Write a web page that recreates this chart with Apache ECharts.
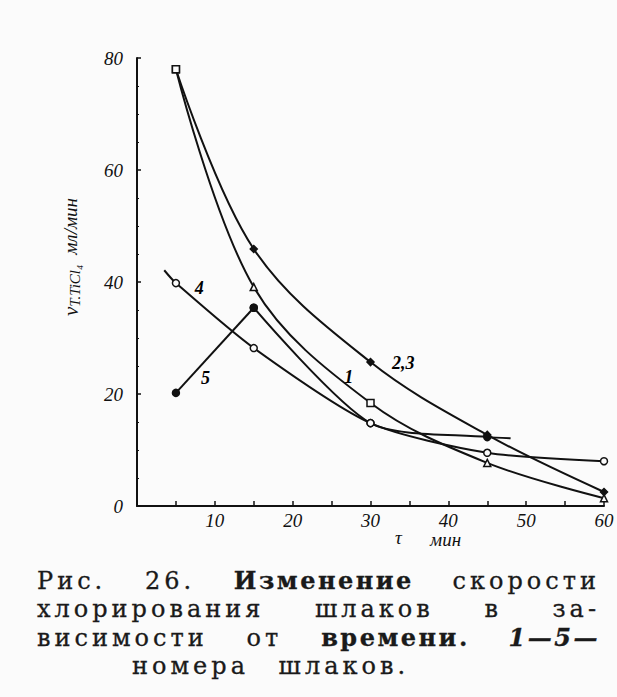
<!DOCTYPE html>
<html>
<head>
<meta charset="utf-8">
<script src="https://cdn.jsdelivr.net/npm/echarts@6/dist/echarts.min.js"></script>
<style>
  html, body { margin: 0; padding: 0; background: #fbfbfb; }
  #chart { width: 617px; height: 697px; }
  #caption {
    position: absolute; left: 37px; top: 567px; width: 563px;
    font-family: "DejaVu Serif", "Liberation Serif", serif;
    font-size: 24px; color: #1a1a1a; line-height: 28.3px; letter-spacing: 4px;
    -webkit-text-stroke: 0.3px #1a1a1a;
  }
  #caption div { text-align: justify; text-align-last: justify; white-space: nowrap; }
  #caption div.last { text-align: left; text-align-last: left; padding-left: 95px; word-spacing: 18px; }
  #caption b { font-weight: bold; letter-spacing: 2.5px; }
</style>
</head>
<body>
<div id="chart"></div>
<div id="caption">
  <div>Рис. 26. <b>Изменение</b> скорости</div>
  <div>хлорирования шлаков в за-</div>
  <div>висимости от <b>времени.</b> <b><i>1—5—</i></b></div>
  <div class="last">номера шлаков.</div>
</div>
<script>
// time, min
const time = [5, 15, 30, 45, 60];
// chlorination rate of slags, ml/min
const slag1 = [78, 39.1, 18.4, 7.7, 1.4];
const slag23 = [78, 45.9, 25.7, 12.7, 2.5];
const slag4Time = [3.5, 5, 15, 30, 45, 60];
const slag4 = [42.1, 39.8, 28.2, 14.8, 9.5, 8.0];
const slag5Time = [5, 15, 30, 45, 48];
const slag5 = [20.2, 35.4, 14.8, 12.3, 12.1];

// curve labels written next to the lines
const labelTime = [8, 8.8, 27.2, 34.2];
const labelRate = [39, 22.9, 23, 25.5];
const labelText = ['4', '5', '1', '2,3'];

const xTicks = [10, 20, 30, 40, 50, 60];

const ink = '#111';
const paper = '#fbfbfb';
const tickFont = {
    fontFamily: 'Liberation Serif',
    fontStyle: 'italic',
    fontSize: 19,
    color: ink
};

const pairs = (xs, ys) => xs.map((x, i) => [x, ys[i]]);

const markStyle = (filled) => ({
    color: filled ? ink : paper,
    borderColor: ink,
    borderWidth: 1.5
});

const chart = echarts.init(document.getElementById('chart'), null, { renderer: 'svg' });

const curve = (name, data, symbolFor, extra) => Object.assign({
    name: name,
    type: 'line',
    smooth: 0.35,
    symbolSize: 7,
    lineStyle: { color: ink, width: 2 },
    data: data.map((d, i) => {
        const s = symbolFor(i);
        return {
            value: d,
            symbol: s ? s.symbol : 'none',
            itemStyle: s ? markStyle(s.filled) : undefined
        };
    }),
    z: 3
}, extra || {});

const slag5Pairs = pairs(slag5Time, slag5);

const italic = (size, extra) => Object.assign({
    fontFamily: 'Liberation Serif',
    fontStyle: 'italic',
    fontSize: size,
    fill: ink
}, extra || {});

const option = {
    backgroundColor: paper,
    animation: false,
    grid: { left: 137, right: 13, top: 58, bottom: 191 },
    xAxis: {
        type: 'value',
        min: 0,
        max: 60,
        interval: 5,
        axisLine: { lineStyle: { color: ink, width: 2 } },
        axisTick: { inside: true, length: 5, lineStyle: { color: ink, width: 1.5 } },
        axisLabel: Object.assign({
            margin: 5,
            formatter: v => (xTicks.indexOf(v) >= 0 ? String(v) : '')
        }, tickFont),
        splitLine: { show: false }
    },
    yAxis: {
        type: 'value',
        min: 0,
        max: 80,
        interval: 20,
        axisLine: { show: true, lineStyle: { color: ink, width: 2 } },
        axisTick: { show: true, inside: true, length: 4, lineStyle: { color: ink, width: 1.5 } },
        minorTick: { show: true, splitNumber: 4, length: 2, lineStyle: { color: ink } },
        axisLabel: Object.assign({ margin: 14 }, tickFont),
        splitLine: { show: false }
    },
    graphic: [
        {
            type: 'text',
            left: 60,
            top: 198,
            rotation: Math.PI / 2,
            style: {
                text: '{v|v}{s|T.TiCl₄}   {u|мл/мин}',
                rich: {
                    v: italic(21),
                    s: italic(15, { padding: [9, 0, 0, 0] }),
                    u: italic(19)
                }
            }
        },
        { type: 'text', left: 395, top: 528, style: Object.assign({ text: 'τ' }, italic(19)) },
        { type: 'text', left: 430, top: 530, style: Object.assign({ text: 'мин' }, italic(19)) }
    ],
    series: [
        curve('2,3', pairs(time, slag23), i => (i === 0 ? { symbol: 'rect', filled: false } : { symbol: 'diamond', filled: true })),
        curve('1', pairs(time, slag1), i => (i === 0 || i === 2 ? { symbol: 'rect', filled: false } : { symbol: 'triangle', filled: false })),
        curve('4', pairs(slag4Time, slag4), i => (i === 0 ? null : { symbol: 'circle', filled: false }), { smooth: 0.25 }),
        // slag 5 rises along a straight piece, then falls along a curve
        curve('5', slag5Pairs.slice(0, 2), () => ({ symbol: 'circle', filled: true }), { smooth: false }),
        curve('5', slag5Pairs.slice(1), i => (i === 3 ? null : { symbol: 'circle', filled: i !== 1 }), { smooth: 0.25 }),
        {
            name: 'labels',
            type: 'scatter',
            symbol: 'circle',
            symbolSize: 2,
            itemStyle: { color: 'rgba(0,0,0,0)' },
            data: labelTime.map((x, i) => ({ value: [x, labelRate[i]], name: labelText[i] })),
            label: {
                show: true,
                position: 'inside',
                formatter: p => p.name,
                fontFamily: 'Liberation Serif',
                fontStyle: 'italic',
                fontWeight: 'bold',
                fontSize: 18,
                color: '#000',
                opacity: 1
            },
            z: 4
        }
    ]
};

chart.setOption(option);
</script>
</body>
</html>
